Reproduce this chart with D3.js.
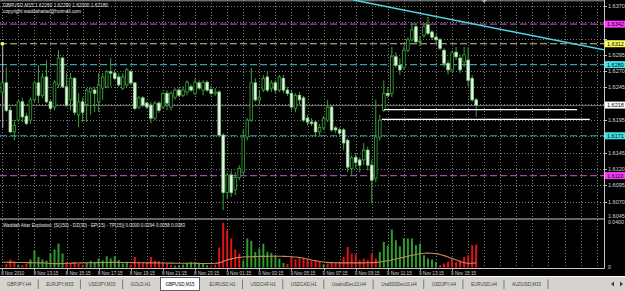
<!DOCTYPE html>
<html>
<head>
<meta charset="utf-8">
<script src="https://cdn.jsdelivr.net/npm/d3@7"></script>
<style>
  html, body { margin: 0; padding: 0; background: #000; }
  svg { display: block; }
  text { font-family: "Liberation Sans", Arial, sans-serif; }
</style>
</head>
<body>
<svg id="chart" width="625" height="291"></svg>
<script>
// ---------- data ----------
const symbol = "GBPUSD,M15";

const opens = [
  1.6238,1.6252,1.6210,1.6177,1.6195,1.6223,1.6201,1.6195,1.6226,1.6252,
  1.6233,1.6261,1.6223,1.6215,1.6249,1.6290,1.6246,1.6226,1.6259,1.6203,
  1.6223,1.6219,1.6238,1.6241,1.6223,1.6244,1.6246,1.6269,1.6267,1.6261,
  1.6244,1.6249,1.6269,1.6252,1.6215,1.6229,1.6221,1.6218,1.6198,1.6221,
  1.6215,1.6236,1.6215,1.6230,1.6241,1.6233,1.6238,1.6246,1.6236,1.6252,
  1.6241,1.6253,1.6242,1.6236,1.6238,1.6172,1.6084,1.6111,1.6088,1.6107,
  1.6115,1.6169,1.6195,1.6252,1.6226,1.6241,1.6261,1.6244,1.6252,1.6241,
  1.6259,1.6241,1.6236,1.6213,1.6233,1.6229,1.6198,1.6192,1.6192,1.6177,
  1.6183,1.6195,1.6215,1.6183,1.6180,1.6180,1.6164,1.6121,1.6138,1.6134,
  1.6134,1.6149,1.6126,1.6106,1.6169,1.6210,1.6236,1.6236,1.6292,1.6279,
  1.6276,1.6302,1.6318,1.6338,1.6315,1.6325,1.6341,1.6330,1.6322,1.6318,
  1.6302,1.6282,1.6272,1.6299,1.6290,1.6284,1.6287,1.6259,1.6226
];
const highs = [
  1.6256,1.6276,1.6215,1.6195,1.6226,1.6229,1.6206,1.6230,1.6253,1.6279,
  1.6267,1.6287,1.6226,1.6256,1.6302,1.6292,1.6267,1.6267,1.6261,1.6236,
  1.6230,1.6244,1.6246,1.6246,1.6267,1.6267,1.6272,1.6290,1.6272,1.6267,
  1.6267,1.6275,1.6272,1.6253,1.6232,1.6232,1.6224,1.6223,1.6224,1.6224,
  1.6238,1.6241,1.6239,1.6244,1.6244,1.6247,1.6256,1.6250,1.6259,1.6256,
  1.6256,1.6256,1.6247,1.6244,1.6241,1.6175,1.6114,1.6118,1.6115,1.6126,
  1.6180,1.6198,1.6275,1.6259,1.6241,1.6264,1.6269,1.6256,1.6256,1.6264,
  1.6264,1.6246,1.6241,1.6236,1.6238,1.6232,1.6203,1.6198,1.6195,1.6189,
  1.6201,1.6226,1.6218,1.6186,1.6184,1.6183,1.6167,1.6141,1.6144,1.6138,
  1.6160,1.6154,1.6134,1.6226,1.6203,1.6256,1.6244,1.6307,1.6299,1.6290,
  1.6308,1.6322,1.6344,1.6344,1.6324,1.6344,1.6353,1.6333,1.6327,1.6321,
  1.6305,1.6287,1.6302,1.6307,1.6295,1.6307,1.6307,1.6264,1.6229
];
const lows = [
  1.6233,1.6207,1.6175,1.6164,1.6192,1.6192,1.6187,1.6189,1.6223,1.6221,
  1.6229,1.6221,1.6210,1.6210,1.6244,1.6244,1.6215,1.6210,1.6203,1.6184,
  1.6192,1.6192,1.6203,1.6207,1.6207,1.6226,1.6244,1.6246,1.6256,1.6246,
  1.6241,1.6246,1.6249,1.6210,1.6212,1.6215,1.6212,1.6190,1.6195,1.6206,
  1.6212,1.6210,1.6210,1.6226,1.6230,1.6230,1.6233,1.6238,1.6233,1.6241,
  1.6233,1.6238,1.6233,1.6232,1.6169,1.6057,1.6075,1.6077,1.6080,1.6103,
  1.6111,1.6164,1.6192,1.6223,1.6219,1.6238,1.6238,1.6238,1.6236,1.6238,
  1.6236,1.6232,1.6210,1.6207,1.6219,1.6192,1.6187,1.6186,1.6172,1.6170,
  1.6180,1.6192,1.6177,1.6175,1.6170,1.6149,1.6115,1.6111,1.6121,1.6115,
  1.6126,1.6118,1.6068,1.6100,1.6164,1.6207,1.6229,1.6230,1.6275,1.6264,
  1.6272,1.6299,1.6315,1.6312,1.6308,1.6321,1.6325,1.6318,1.6313,1.6302,
  1.6276,1.6265,1.6269,1.6287,1.6267,1.6276,1.6246,1.6223,1.6200
];
const closes = [
  1.6252,1.6210,1.6177,1.6187,1.6223,1.6200,1.6190,1.6226,1.6252,1.6233,
  1.6261,1.6223,1.6213,1.6253,1.6290,1.6246,1.6218,1.6259,1.6207,1.6223,
  1.6207,1.6241,1.6244,1.6236,1.6249,1.6261,1.6269,1.6267,1.6259,1.6249,
  1.6261,1.6272,1.6252,1.6213,1.6229,1.6218,1.6215,1.6198,1.6221,1.6210,
  1.6236,1.6221,1.6236,1.6241,1.6233,1.6241,1.6253,1.6241,1.6253,1.6244,
  1.6253,1.6241,1.6236,1.6238,1.6172,1.6084,1.6111,1.6084,1.6107,1.6121,
  1.6169,1.6195,1.6252,1.6226,1.6230,1.6259,1.6241,1.6252,1.6241,1.6261,
  1.6241,1.6236,1.6215,1.6233,1.6226,1.6195,1.6192,1.6190,1.6177,1.6184,
  1.6198,1.6215,1.6180,1.6180,1.6175,1.6160,1.6123,1.6137,1.6130,1.6126,
  1.6149,1.6126,1.6103,1.6169,1.6195,1.6236,1.6233,1.6292,1.6279,1.6272,
  1.6302,1.6318,1.6333,1.6315,1.6316,1.6338,1.6328,1.6322,1.6318,1.6305,
  1.6282,1.6272,1.6298,1.6292,1.6272,1.6295,1.6256,1.6226,1.6218
];

// Waddah Attar Explosion buffers
const trendUp = [
  0,0,0,0,.0025,0,0,.0069,.0143,.0091,
  .0069,.0060,.0120,.0155,.0206,.0120,0,0,0,0,
  0,.0040,.0057,.0048,.0077,.0060,.0097,.0077,.0097,.0063,
  .0035,.0050,0,0,0,0,0,0,0,0,
  0,0,0,.0015,.0020,.0025,.0040,.0048,.0048,.0040,
  .0030,.0020,0,0,0,0,0,0,0,0,
  .0060,.0250,.0229,.0134,.0163,.0206,.0134,.0126,.0106,.0077,
  .0040,0,0,0,0,0,0,0,0,0,
  .0028,0,0,0,0,0,0,0,0,0,
  0,0,0,0,.0134,.0220,.0190,.0327,.0235,.0183,
  .0250,.0250,.0250,.0192,.0206,.0106,.0077,.0069,.0048,0,
  0,0,0,0,0,0,0,0,0
];
const trendDown = [
  0,.0030,.0069,.0048,0,.0020,.0030,0,0,0,
  0,0,0,0,0,0,.0048,.0040,.0048,.0030,
  .0025,0,0,0,0,0,0,0,0,0,
  0,0,.0025,.0091,.0048,.0048,.0040,.0091,.0060,.0055,
  .0048,.0030,.0020,0,0,0,0,0,0,0,
  0,0,.0010,.0025,.0172,.0384,.0321,.0250,.0155,.0120,
  0,0,0,0,0,0,0,0,0,0,
  0,.0030,.0091,.0070,.0080,.0085,.0075,.0060,.0063,.0048,
  0,.0035,.0048,.0048,.0048,.0091,.0177,.0120,.0115,.0063,
  .0077,.0063,.0120,.0077,0,0,0,0,0,0,
  0,0,0,0,0,0,0,0,0,.0020,
  .0034,.0050,.0077,.0048,.0060,.0091,.0106,.0192,.0198
];
const explosion = [
  .0045,.0045,.0044,.0044,.0043,.0043,.0042,.0042,.0041,.0040,
  .0040,.0039,.0034,.0033,.0033,.0034,.0036,.0037,.0038,.0039,
  .0040,.0041,.0041,.0042,.0042,.0043,.0043,.0044,.0044,.0044,
  .0043,.0043,.0042,.0042,.0041,.0041,.0040,.0040,.0040,.0039,
  .0039,.0038,.0038,.0037,.0037,.0037,.0036,.0036,.0036,.0035,
  .0035,.0035,.0035,.0036,.0040,.0052,.0064,.0074,.0082,.0087,
  .0090,.0092,.0093,.0094,.0095,.0096,.0096,.0097,.0097,.0097,
  .0096,.0095,.0093,.0090,.0086,.0080,.0073,.0065,.0058,.0052,
  .0047,.0044,.0042,.0041,.0040,.0040,.0040,.0040,.0040,.0040,
  .0040,.0041,.0042,.0044,.0047,.0052,.0058,.0065,.0073,.0081,
  .0089,.0097,.0105,.0112,.0118,.0122,.0124,.0123,.0119,.0112,
  .0102,.0090,.0077,.0064,.0052,.0042,.0036,.0036,.0042
];

const timeLabels = ["8 Nov 2010","8 Nov 13:15","8 Nov 15:15","8 Nov 17:15","8 Nov 19:15",
  "8 Nov 21:15","8 Nov 23:15","9 Nov 01:15","9 Nov 03:15","9 Nov 05:15","9 Nov 07:15",
  "9 Nov 09:15","9 Nov 11:15","9 Nov 13:15","9 Nov 15:15"];
const timeLabelBars = [0,8,16,24,32,40,48,56,64,72,80,88,96,104,112];

const priceTicks = [1.6370,1.6345,1.6320,1.6295,1.6270,1.6245,1.6220,1.6195,1.6170,1.6145,1.6120,1.6095,1.6070];
const indicatorTicks = [0.0400, 0];

// horizontal level objects and their kinds
const levelPrices = [1.6342, 1.6312, 1.6280, 1.6171, 1.6110];
const levelKinds  = ["magenta", "yellow", "cyan", "cyan", "magenta"];
// white horizontal segments: [fromBar, toBar, price]
const shelfLines = [[95.0, 143.1, 1.6211], [94.5, 146.3, 1.6196]];
// trend line anchors: [bar, price]
const trendLine = [[87.4, 1.6379], [150.3, 1.6302]];
// vertical object at the left edge: [bar, fromPrice, toPrice]
const leftMarker = [0.1, 1.6312, 1.6183];

const tabNames = ["GBPJPY,H4","EURJPY,M15","USDJPY,M15","GOLD,H1","GBPUSD,M15","EURUSD,H1",
  "USDCHF,H1","USDCAD,H1","UsaIndDec10,H4","Usa500Dec10,H4","USDJPY,H4","EURUSD,H4","AUDUSD,M15"];
const activeTab = "GBPUSD,M15";
const indicatorTitle = "Waddah Attar Explosion: [S(150) - DZ(30) - EP(15) - TP(15)] 0.0000 0.0294 0.0058 0.0083";
const copyright = "copyright waddahattar@hotmail.com";

// ---------- styles ----------
const levelStyle = {
  magenta: {line: "#9c4c9c", box: "#ff3cff"},
  yellow:  {line: "#c9c99a", box: "#ffff5a"},
  cyan:    {line: "#3a9ea6", box: "#3ee6ea"}
};
const wickColor = "#3aa43a";
const bearFill = "#e4f6e4";
const gridColor = "#7a7a7a";

// ---------- layout ----------
const svg = d3.select("#chart");
const W = 625, H = 291;
const axisX = 604.5;
const mainBottom = 218.5;
const indTop = 220, indBottom = 268.5;

svg.append("rect").attr("width", W).attr("height", H).attr("fill", "#000");

const x = d3.scaleLinear().domain([0, 150]).range([2.3, 2.3 + 4.016 * 150]);
const y = d3.scaleLinear().domain([1.6045, 1.6379]).range([218, 0]);
const yi = d3.scaleLinear().domain([0, 0.04]).range([267.5, 221]);
const bars = d3.range(opens.length);

svg.append("defs").append("clipPath").attr("id", "mainClip")
  .append("rect").attr("x", 0).attr("y", 0).attr("width", axisX).attr("height", mainBottom);

// grid
const gridBars = d3.range(0, 151, 4).filter(i => x(i) < axisX - 1);
const grid = svg.append("g").attr("stroke", gridColor).attr("stroke-dasharray", "1,2").attr("stroke-width", 1);
grid.selectAll("line.v").data(gridBars).enter().append("line")
  .attr("x1", d => Math.round(x(d)) + 0.5).attr("x2", d => Math.round(x(d)) + 0.5)
  .attr("y1", 0).attr("y2", mainBottom);
grid.selectAll("line.vi").data(gridBars).enter().append("line")
  .attr("x1", d => Math.round(x(d)) + 0.5).attr("x2", d => Math.round(x(d)) + 0.5)
  .attr("y1", indTop).attr("y2", indBottom);
grid.selectAll("line.h").data(priceTicks).enter().append("line")
  .attr("x1", 0).attr("x2", axisX)
  .attr("y1", d => Math.round(y(d)) + 0.5).attr("y2", d => Math.round(y(d)) + 0.5);

const main = svg.append("g").attr("clip-path", "url(#mainClip)");

// top horizontal object + shift marker
main.append("line").attr("x1", 0).attr("x2", axisX).attr("y1", 0.8).attr("y2", 0.8)
  .attr("stroke", "#9a9a9a").attr("stroke-width", 1);
svg.append("path").attr("d", d3.line()([[x(120) - 2.5, 0], [x(120) + 2.5, 0], [x(120), 3]]))
  .attr("fill", "#b0b0b0");

// level lines
main.selectAll("line.level").data(levelPrices).enter().append("line")
  .attr("x1", 0).attr("x2", axisX)
  .attr("y1", d => y(d)).attr("y2", d => y(d))
  .attr("stroke", (d, i) => levelStyle[levelKinds[i]].line)
  .attr("stroke-width", 1.2).attr("stroke-dasharray", "7,3");

// left vertical marker with yellow anchor
main.append("line").attr("x1", x(leftMarker[0])).attr("x2", x(leftMarker[0]))
  .attr("y1", y(leftMarker[1])).attr("y2", y(leftMarker[2]))
  .attr("stroke", "#bcbcbc").attr("stroke-width", 1);
main.append("rect").attr("x", 1).attr("y", y(levelPrices[1]) - 1.5).attr("width", 3).attr("height", 3)
  .attr("fill", levelStyle.yellow.box);

// bid line
const lastClose = closes[closes.length - 1];
main.append("line").attr("x1", 0).attr("x2", axisX)
  .attr("y1", y(lastClose) + 0.5).attr("y2", y(lastClose) + 0.5)
  .attr("stroke", "#6e6e6e").attr("stroke-width", 1);

// candles
const candles = main.selectAll("g.candle").data(bars).enter().append("g");
candles.append("line")
  .attr("x1", i => x(i)).attr("x2", i => x(i))
  .attr("y1", i => y(highs[i])).attr("y2", i => y(lows[i]))
  .attr("stroke", wickColor).attr("stroke-width", 1);
candles.append("rect")
  .attr("x", i => x(i) - 1.3).attr("width", 2.6)
  .attr("y", i => y(Math.max(opens[i], closes[i])))
  .attr("height", i => Math.max(0.8, Math.abs(y(opens[i]) - y(closes[i]))))
  .attr("fill", i => closes[i] < opens[i] ? bearFill : "#000")
  .attr("stroke", i => closes[i] < opens[i] ? "#8fd08f" : wickColor)
  .attr("stroke-width", 0.8);

// white horizontal segments
main.selectAll("line.shelf").data(shelfLines).enter().append("line")
  .attr("x1", d => x(d[0])).attr("x2", d => x(d[1]))
  .attr("y1", d => y(d[2])).attr("y2", d => y(d[2]))
  .attr("stroke", "#ffffff").attr("stroke-width", 1.3);

// trend line
main.append("line")
  .attr("x1", x(trendLine[0][0])).attr("y1", y(trendLine[0][1]))
  .attr("x2", x(trendLine[1][0])).attr("y2", y(trendLine[1][1]))
  .attr("stroke", "#4fd6e6").attr("stroke-width", 1.5);

// header texts
svg.append("text").attr("x", 3).attr("y", 6.5).attr("fill", "#e8e8e8").attr("font-size", 5.5)
  .attr("textLength", 105).attr("lengthAdjust", "spacingAndGlyphs")
  .text(`${symbol}  ${opens[118].toFixed(5)} ${highs[118].toFixed(5)} ${lows[118].toFixed(5)} ${lastClose.toFixed(5)}`);
svg.append("text").attr("x", 3).attr("y", 12.5).attr("fill", "#e8e8e8").attr("font-size", 5.5)
  .attr("textLength", 78).attr("lengthAdjust", "spacingAndGlyphs").text(copyright);

// ---------- indicator panel ----------
const ind = svg.append("g");
ind.selectAll("rect.up").data(bars.filter(i => trendUp[i] > 0)).enter().append("rect")
  .attr("x", i => x(i) - 1).attr("width", 2)
  .attr("y", i => yi(trendUp[i])).attr("height", i => yi(0) - yi(trendUp[i]))
  .attr("fill", "#2f9a2f");
ind.selectAll("rect.dn").data(bars.filter(i => trendDown[i] > 0)).enter().append("rect")
  .attr("x", i => x(i) - 1).attr("width", 2)
  .attr("y", i => yi(trendDown[i])).attr("height", i => yi(0) - yi(trendDown[i]))
  .attr("fill", "#e01414");
ind.append("path").datum(bars)
  .attr("d", d3.line().x(i => x(i)).y(i => yi(explosion[i])).curve(d3.curveMonotoneX))
  .attr("fill", "none").attr("stroke", "#c58a5c").attr("stroke-width", 1.1);
ind.append("text").attr("x", 3).attr("y", 226.5).attr("fill", "#e8e8e8").attr("font-size", 5.2)
  .attr("textLength", 182).attr("lengthAdjust", "spacingAndGlyphs").text(indicatorTitle);

// ---------- frame lines ----------
const frame = svg.append("g").attr("stroke", "#c8c8c8").attr("stroke-width", 1);
frame.append("line").attr("x1", axisX).attr("x2", axisX).attr("y1", 0).attr("y2", indBottom);
frame.append("line").attr("x1", 0).attr("x2", axisX).attr("y1", mainBottom + 0.5).attr("y2", mainBottom + 0.5);
frame.append("line").attr("x1", 0).attr("x2", axisX).attr("y1", indBottom).attr("y2", indBottom);

// ---------- price axis ----------
const lastClosePrice = closes[closes.length - 1];
const boxedPrices = levelPrices.concat([lastClosePrice]);
const freeTicks = priceTicks.filter(t => boxedPrices.every(p => Math.abs(y(p) - y(t)) > 6));
const pa = svg.append("g").attr("font-size", 5.5).attr("fill", "#d8d8d8");
pa.selectAll("line").data(priceTicks).enter().append("line")
  .attr("x1", axisX).attr("x2", axisX + 2.5)
  .attr("y1", d => Math.round(y(d)) + 0.5).attr("y2", d => Math.round(y(d)) + 0.5)
  .attr("stroke", "#c8c8c8");
pa.selectAll("text").data(freeTicks).enter().append("text")
  .attr("x", 608).attr("y", d => y(d) + 2).text(d => d.toFixed(4));
pa.append("text").attr("x", 608).attr("y", 217.5).text(y.domain()[0].toFixed(4));

const ia = svg.append("g").attr("font-size", 5.2).attr("fill", "#d8d8d8");
ia.selectAll("text").data(indicatorTicks).enter().append("text")
  .attr("x", 608).attr("y", d => d === 0 ? yi(d) + 1 : yi(d) + 3).text(d => d === 0 ? "0" : d.toFixed(4));

// level labels
const labels = svg.append("g").attr("font-size", 5.5);
levelPrices.forEach((p, i) => {
  const yy = y(p);
  labels.append("rect").attr("x", 605).attr("y", yy - 3.5).attr("width", 20).attr("height", 7)
    .attr("fill", levelStyle[levelKinds[i]].box);
  labels.append("text").attr("x", 607).attr("y", yy + 2).attr("fill", "#000").text(p.toFixed(4));
});
labels.append("rect").attr("x", 605).attr("y", y(lastClose) - 3.5).attr("width", 20).attr("height", 7)
  .attr("fill", "#ffffff");
labels.append("text").attr("x", 607).attr("y", y(lastClose) + 2).attr("fill", "#000").text(lastClose.toFixed(4));

// ---------- time axis ----------
const ta = svg.append("g").attr("font-size", 5.2).attr("fill", "#d8d8d8");
ta.selectAll("line").data(timeLabelBars).enter().append("line")
  .attr("x1", d => Math.round(x(d)) + 0.5).attr("x2", d => Math.round(x(d)) + 0.5)
  .attr("y1", indBottom).attr("y2", indBottom + 2).attr("stroke", "#c8c8c8");
ta.selectAll("text").data(timeLabelBars).enter().append("text")
  .attr("x", d => x(d) - 1).attr("y", 275)
  .attr("textLength", (d, i) => i === 0 ? 23 : 25).attr("lengthAdjust", "spacingAndGlyphs")
  .text((d, i) => timeLabels[i]);

// ---------- tab bar ----------
svg.append("rect").attr("x", 0).attr("y", 276.5).attr("width", W).attr("height", H - 276.5).attr("fill", "#d6d3ce");
svg.append("line").attr("x1", 0).attr("x2", W).attr("y1", 276.5).attr("y2", 276.5).attr("stroke", "#ffffff");
const tabs = svg.append("g").attr("font-size", 6);
// measure natural widths, then condense so the strip ends where the reference strip ends
const tabTexts = tabNames.map(name => tabs.append("text").attr("y", 286).attr("fill", "#3c3c3c").text(name));
const natural = tabTexts.map(t => t.node().getComputedTextLength());
const squeeze = 354 / d3.sum(natural);
let tx = 7;
tabTexts.forEach((t, i) => {
  const w = natural[i] * squeeze;
  t.attr("x", tx).attr("textLength", w).attr("lengthAdjust", "spacingAndGlyphs");
  if (tabNames[i] === activeTab) {
    tabs.insert("rect", "text").attr("x", tx - 5).attr("y", 277.5).attr("width", w + 10).attr("height", 13)
      .attr("fill", "#ffffff").attr("stroke", "#404040").attr("stroke-width", 0.8);
    t.attr("fill", "#000");
  }
  const sep = tx + w + 7;
  if (tabNames[i] !== activeTab && tabNames[i + 1] !== activeTab) {
    tabs.append("line").attr("x1", sep).attr("x2", sep).attr("y1", 279.5).attr("y2", 289)
      .attr("stroke", "#7a7a7a");
  }
  tx = sep + 8;
});
// scroll arrows
tabs.append("path").attr("d", "M611,284 L614,281.5 L614,286.5 Z").attr("fill", "#404040");
tabs.append("path").attr("d", "M623,284 L620,281.5 L620,286.5 Z").attr("fill", "#404040");
</script>
</body>
</html>
